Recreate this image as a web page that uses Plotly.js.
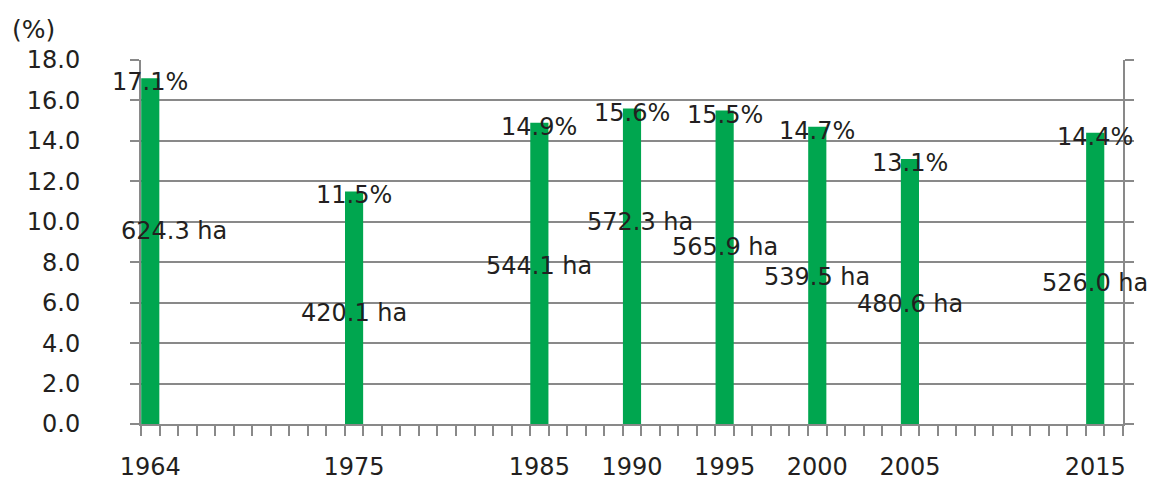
<!DOCTYPE html>
<html>
<head>
<meta charset="utf-8">
<script src="https://cdn.plot.ly/plotly-3.0.1.min.js"></script>
<style>
  html, body { margin: 0; padding: 0; background: #fff; }
  #chart { width: 1152px; height: 480px; }
</style>
</head>
<body>
<div id="chart"></div>
<script>
// ---- data ----
const years = [1964, 1975, 1985, 1990, 1995, 2000, 2005, 2015];
const sharePct = [17.1, 11.5, 14.9, 15.6, 15.5, 14.7, 13.1, 14.4];
const areaHa = [624.3, 420.1, 544.1, 572.3, 565.9, 539.5, 480.6, 526.0];
const yTickVals = [0, 2, 4, 6, 8, 10, 12, 14, 16, 18];

// ---- label placement (layout only) ----
const haLabelLevel = [9.75, 5.71, 8.01, 10.19, 8.93, 7.47, 6.11, 7.17];
const haLabelShiftPx = [24, 0, 0, 8, 0, 0, 0, 0];

const FONT = 'DejaVu Sans, sans-serif';
const TXT = '#231f20';
const GRID = '#898989';
const GREEN = '#00a64f';

const trace = {
  type: 'bar',
  x: years,
  y: sharePct,
  width: 0.98,
  marker: { color: GREEN, line: { width: 0 } },
  hoverinfo: 'skip'
};

const annotations = [];
years.forEach((yr, i) => {
  annotations.push({
    x: yr, y: sharePct[i], xref: 'x', yref: 'y',
    text: sharePct[i].toFixed(1) + '%', showarrow: false,
    xanchor: 'center', yanchor: 'middle', yshift: -4,
    font: { family: FONT, size: 24, color: TXT }
  });
  annotations.push({
    x: yr, y: haLabelLevel[i], xref: 'x', yref: 'y',
    text: areaHa[i].toFixed(1) + ' ha', showarrow: false,
    xanchor: 'center', yanchor: 'middle', yshift: -4, xshift: haLabelShiftPx[i],
    font: { family: FONT, size: 24, color: TXT }
  });
});
annotations.push({
  x: -0.109, y: 1.085, xref: 'paper', yref: 'paper',
  text: '(%)', showarrow: false, xanchor: 'center', yanchor: 'middle',
  font: { family: FONT, size: 25, color: TXT }
});

const layout = {
  width: 1152, height: 480,
  margin: { l: 141, r: 29, t: 60, b: 56, pad: 0 },
  paper_bgcolor: '#ffffff', plot_bgcolor: '#ffffff',
  showlegend: false,
  font: { family: FONT, size: 24, color: TXT },
  xaxis: {
    range: [1963.5, 2016.5],
    tickmode: 'array', tickvals: years, ticktext: years.map(String),
    ticks: '', showgrid: false, zeroline: false,
    showline: true, linecolor: GRID, linewidth: 2,
    ticklabelstandoff: 20,
    tickfont: { family: FONT, size: 24, color: TXT },
    minor: { tickmode: 'linear', tick0: 1963.5, dtick: 1, ticks: 'outside', ticklen: 10, tickwidth: 2, tickcolor: GRID, showgrid: false }
  },
  yaxis: {
    range: [0, 18],
    tickmode: 'array', tickvals: yTickVals, ticktext: yTickVals.map(v => v.toFixed(1)),
    ticks: 'outside', ticklen: 9, tickwidth: 2, tickcolor: GRID,
    showgrid: true, gridcolor: GRID, gridwidth: 2, zeroline: false,
    showline: true, linecolor: GRID, linewidth: 2, mirror: 'ticks',
    ticklabelstandoff: 45,
    tickfont: { family: FONT, size: 24, color: TXT }
  },
  annotations: annotations
};

Plotly.newPlot('chart', [trace], layout, { displayModeBar: false, staticPlot: true });
</script>
</body>
</html>
